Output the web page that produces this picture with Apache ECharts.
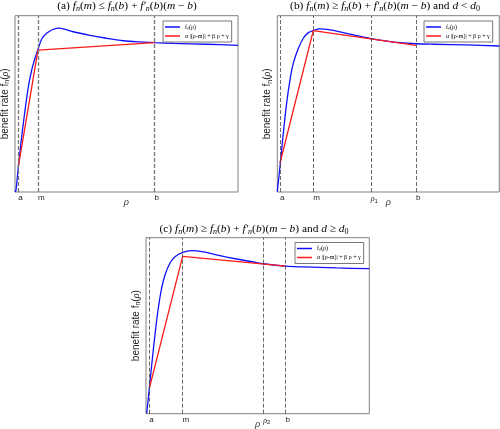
<!DOCTYPE html>
<html>
<head>
<meta charset="utf-8">
<script src="https://cdn.jsdelivr.net/npm/echarts@6/dist/echarts.min.js"></script>
<style>
  html, body { margin: 0; padding: 0; background: #fff; }
  #chart { width: 500px; height: 429px; }
</style>
</head>
<body>
<div id="chart"></div>
<script>
// rho runs 0..100 and benefit rate 0..100 (arbitrary units) in every panel
var ticksA = [1.5, 10.3, 62.5];
var tickNamesA = ['a', 'm', 'b'];
var ticksB = [1.2, 16.2, 42.1, 62.5];
var tickNamesB = ['a', 'm', '{g|ρ}{s|1}', 'b'];
var ticksC = [1.5, 16.4, 52.5, 62.5];
var tickNamesC = ['a', 'm', '{g|ρ}{s|2}', 'b'];

// f_n(rho)
var blueA = [[0, 0], [0.45, 1.1], [1.5, 14.4], [3.0, 31.4], [4.5, 46.5], [6.0, 59.7], [7.5, 69.2],
  [9.0, 76.0], [10.3, 80.9], [12.0, 86.8], [14.2, 90.0], [16.5, 91.9], [19.4, 92.9], [22.5, 92.3],
  [26.1, 90.9], [33.6, 88.9], [41.1, 87.2], [48.6, 85.8], [56.1, 85.1], [62.5, 84.7], [71.0, 84.3],
  [86.0, 83.8], [100, 83.2]];
var blueB = [[0, 0.2], [1.2, 14.4], [2.7, 33.3], [4.2, 50.3], [5.7, 63.5], [7.2, 73.0], [9.5, 81.5],
  [11.7, 87.2], [14.0, 90.4], [16.2, 91.6], [19.2, 92.5], [23.7, 91.9], [29.7, 90.4], [35.8, 88.7],
  [42.1, 87.0], [49.3, 85.6], [55.3, 84.7], [62.5, 84.1], [70.3, 83.8], [85.3, 83.4], [100, 82.8]];
var blueC = [[0.3, 0.2], [1.5, 14.4], [2.55, 27.7], [4.0, 44.7], [5.5, 59.9], [7.0, 71.3], [8.5, 78.8],
  [10.7, 85.5], [13.1, 89.3], [16.5, 91.7], [20.5, 92.6], [25.7, 91.9], [33.1, 89.8], [40.6, 87.9],
  [48.1, 86.2], [52.5, 85.2], [62.6, 83.8], [70.4, 83.4], [85.4, 82.8], [100, 82.4]];

// alpha |rho - m| + beta rho + gamma, corners at a, m, b
var redA = [[1.5, 14.4], [10.3, 80.5], [62.5, 84.7]];
var redB = [[1.2, 16.3], [16.2, 91.5], [62.5, 83.2]];
var redC = [[1.5, 14.4], [16.4, 89.4], [62.6, 83.8]];

var blueName = 'fₙ(ρ)';
var redName = 'α |(ρ-m)| + β ρ + γ';

var titleA = '{r|(a) }{i|f}{s|n}{r|(}{i|m}{r|) ≤ }{i|f}{s|n}{r|(}{i|b}{r|) + }{i|f′}{s|n}{r|(}{i|b}{r|)(}{i|m}{r| − }{i|b}{r|)}';
var titleB = '{r|(b) }{i|f}{s|n}{r|(}{i|m}{r|) ≥ }{i|f}{s|n}{r|(}{i|b}{r|) + }{i|f′}{s|n}{r|(}{i|b}{r|)(}{i|m}{r| − }{i|b}{r|) and }{i|d}{r| < }{i|d}{z|0}';
var titleC = '{r|(c) }{i|f}{s|n}{r|(}{i|m}{r|) ≥ }{i|f}{s|n}{r|(}{i|b}{r|) + }{i|f′}{s|n}{r|(}{i|b}{r|)(}{i|m}{r| − }{i|b}{r|) and }{i|d}{r| ≥ }{i|d}{z|0}';

var serif = 'Liberation Serif';
var sans = 'Liberation Sans';

var titleRich = {
  r: { fontFamily: serif, fontSize: 11.4, color: '#000', lineHeight: 13 },
  i: { fontFamily: serif, fontStyle: 'italic', fontSize: 11.4, color: '#000', lineHeight: 13 },
  s: { fontFamily: serif, fontStyle: 'italic', fontSize: 8, color: '#000', lineHeight: 13, padding: [5, 0, 0, 0] },
  z: { fontFamily: serif, fontSize: 8, color: '#000', lineHeight: 13, padding: [5, 0, 0, 0] }
};

function xAxisFor(i, ticks, names) {
  return {
    type: 'value', gridIndex: i, min: 0, max: 100,
    name: 'ρ', nameLocation: 'middle', nameGap: 5, nameMoveOverlap: false,
    nameTextStyle: { fontFamily: serif, fontStyle: 'italic', fontSize: 11, color: '#444' },
    axisLine: { show: false },
    axisTick: { show: false },
    splitLine: { show: false },
    axisLabel: {
      customValues: ticks, align: 'left', margin: 2,
      fontFamily: sans, fontSize: 8, color: '#222',
      formatter: function (v) {
        for (var k = 0; k < ticks.length; k++) {
          if (Math.abs(ticks[k] - v) < 1e-6) return names[k];
        }
        return '';
      },
      rich: {
        g: { fontFamily: serif, fontStyle: 'italic', fontSize: 8, color: '#222' },
        s: { fontFamily: sans, fontSize: 6, color: '#222', padding: [4, 0, 0, 0] }
      }
    }
  };
}

function yAxisFor(i) {
  return {
    type: 'value', gridIndex: i, min: 0, max: 100,
    name: '{t|benefit rate f}{s|n}{t|(}{g|ρ}{t|)}', nameLocation: 'middle', nameGap: 4,
    nameTextStyle: {
      rich: {
        t: { fontFamily: sans, fontSize: 10, color: '#222', lineHeight: 12 },
        g: { fontFamily: serif, fontStyle: 'italic', fontSize: 10, color: '#222', lineHeight: 12 },
        s: { fontFamily: sans, fontSize: 7, color: '#222', lineHeight: 12, padding: [5, 0, 0, 0] }
      }
    },
    axisLine: { show: false }, axisTick: { show: false },
    axisLabel: { show: false }, splitLine: { show: false }
  };
}

function seriesFor(i, blue, red, ticks, dash) {
  return [{
    name: blueName, type: 'line', xAxisIndex: i, yAxisIndex: i,
    data: blue, smooth: 0.3, symbol: 'none', z: 2,
    lineStyle: { color: '#1010ff', width: 1.3 }, itemStyle: { color: '#1010ff' },
    markLine: {
      silent: true, symbol: 'none', label: { show: false },
      lineStyle: dash,
      data: ticks.map(function (v) { return { xAxis: v }; })
    }
  }, {
    name: redName, type: 'line', xAxisIndex: i, yAxisIndex: i,
    data: red, symbol: 'none', z: 3,
    lineStyle: { color: '#ff1a1a', width: 1.3 }, itemStyle: { color: '#ff1a1a' }
  }];
}

function legendAt(left, top) {
  return {
    left: left, top: top, orient: 'vertical', data: [blueName, redName],
    icon: 'rect', itemWidth: 15, itemHeight: 1.5, itemGap: 3, padding: [3, 3, 3, 2],
    borderColor: '#555', borderWidth: 0.8, backgroundColor: '#fff',
    selectedMode: false,
    textStyle: { fontFamily: serif, fontSize: 6, color: '#000' }
  };
}

var gridStyle = { show: true, borderColor: '#808080', borderWidth: 1, outerBoundsMode: 'none' };
var dashA = { color: '#777', width: 1.3, type: [4, 2] };
var dashBC = { color: '#444', width: 0.8, type: [4, 2] };

var chart = echarts.init(document.getElementById('chart'));
chart.setOption({
  animation: false,
  backgroundColor: '#fff',
  grid: [
    Object.assign({ left: 15, top: 15.7, width: 223, height: 176.3 }, gridStyle),
    Object.assign({ left: 277.3, top: 15.7, width: 222, height: 176.3 }, gridStyle),
    Object.assign({ left: 146, top: 237.7, width: 223.3, height: 176 }, gridStyle)
  ],
  xAxis: [xAxisFor(0, ticksA, tickNamesA), xAxisFor(1, ticksB, tickNamesB), xAxisFor(2, ticksC, tickNamesC)],
  yAxis: [yAxisFor(0), yAxisFor(1), yAxisFor(2)],
  legend: [legendAt(163, 21), legendAt(424, 21), legendAt(295, 242.5)],
  graphic: [
    { type: 'text', x: 127, y: 6, style: { text: titleA, rich: titleRich, align: 'center', verticalAlign: 'middle', textAlign: 'center', textVerticalAlign: 'middle' } },
    { type: 'text', x: 385, y: 6, style: { text: titleB, rich: titleRich, align: 'center', verticalAlign: 'middle', textAlign: 'center', textVerticalAlign: 'middle' } },
    { type: 'text', x: 254, y: 229, style: { text: titleC, rich: titleRich, align: 'center', verticalAlign: 'middle', textAlign: 'center', textVerticalAlign: 'middle' } }
  ],
  series: [].concat(
    seriesFor(0, blueA, redA, ticksA, dashA),
    seriesFor(1, blueB, redB, ticksB, dashBC),
    seriesFor(2, blueC, redC, ticksC, dashBC)
  )
});
</script>
</body>
</html>
